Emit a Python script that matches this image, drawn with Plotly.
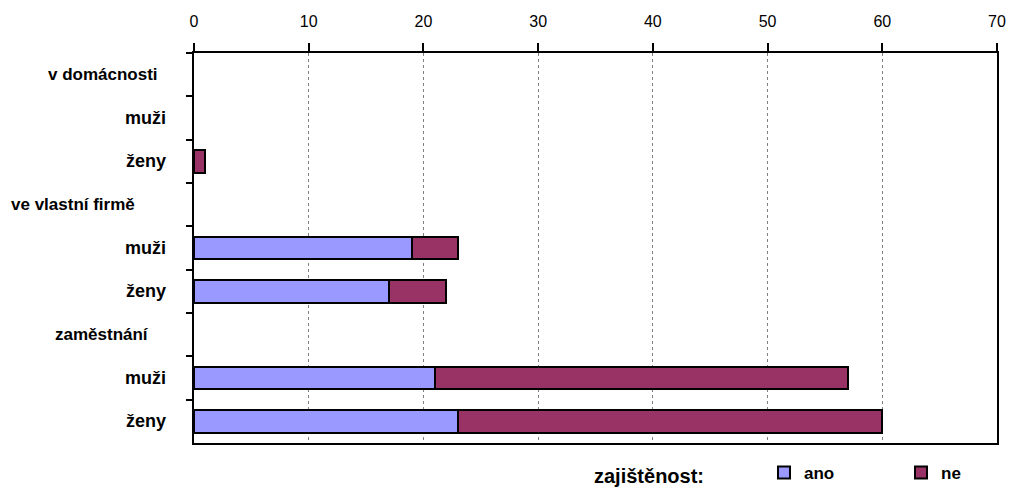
import plotly.graph_objects as go

# ---- data ----
row_keys = ["v domácnosti", "v domácnosti|muži", "v domácnosti|ženy",
            "ve vlastní firmě", "ve vlastní firmě|muži", "ve vlastní firmě|ženy",
            "zaměstnání", "zaměstnání|muži", "zaměstnání|ženy"]
row_labels = ["v domácnosti", "muži", "ženy",
              "ve vlastní firmě", "muži", "ženy",
              "zaměstnání", "muži", "ženy"]
is_group = [True, False, False, True, False, False, True, False, False]
ano = [None, 0, 0, None, 19, 17, None, 21, 23]
ne = [None, 0, 1, None, 4, 5, None, 36, 37]
x_ticks = [0, 10, 20, 30, 40, 50, 60, 70]
legend_title = "zajištěnost:"

FONT = "Arial, 'Liberation Sans', sans-serif"


def drawn(vals):
    # zero-length bars are not drawn (no outline at the axis)
    return [v if v else None for v in vals]


fig = go.Figure()
fig.add_trace(go.Bar(y=row_keys, x=drawn(ano), orientation="h", name="ano",
                     marker=dict(color="#9999FF", line=dict(color="black", width=2))))
fig.add_trace(go.Bar(y=row_keys, x=drawn(ne), orientation="h", name="ne",
                     marker=dict(color="#993366", line=dict(color="black", width=2))))

annotations = []
group_centers = {"v domácnosti": 103, "ve vlastní firmě": 73, "zaměstnání": 102}
for key, lab, g in zip(row_keys, row_labels, is_group):
    if g:
        annotations.append(dict(x=0, xref="paper", y=key, yref="y", text=f"<b>{lab}</b>",
                                showarrow=False, xanchor="center",
                                xshift=group_centers[lab] - 194,
                                font=dict(family=FONT, size=17, color="black")))
    else:
        annotations.append(dict(x=0, xref="paper", y=key, yref="y", text=f"<b>{lab}</b>",
                                showarrow=False, xanchor="right", xshift=-26,
                                font=dict(family=FONT, size=18, color="black")))

annotations.append(dict(x=(592 - 194) / 803, xref="paper", y=(443 - 476) / 390, yref="paper",
                        text=f"<b>{legend_title}</b>", showarrow=False,
                        xanchor="left", yanchor="middle",
                        font=dict(family=FONT, size=20, color="black")))

fig.update_layout(
    width=1010, height=492,
    margin=dict(l=194, r=13, t=53, b=49, autoexpand=False),
    paper_bgcolor="white", plot_bgcolor="white",
    barmode="stack", bargap=0.47,
    font=dict(family=FONT, color="black"),
    showlegend=True,
    legend=dict(orientation="h", xref="container", yref="container",
                x=764 / 1010, xanchor="left", y=19 / 492, yanchor="middle",
                font=dict(family=FONT, size=17, color="black", weight="bold"),
                entrywidth=92, traceorder="normal", bgcolor="rgba(0,0,0,0)"),
    annotations=annotations,
    xaxis=dict(side="top", range=[0, 70], tickvals=x_ticks, ticks="outside", ticklen=8,
               tickwidth=2, tickcolor="black", ticklabelstandoff=10,
               tickfont=dict(family=FONT, size=16, color="black"),
               showgrid=True, gridcolor="#808080", griddash="dot", gridwidth=1,
               showline=True, linecolor="black", linewidth=2, mirror=True, zeroline=False,
               fixedrange=True),
    yaxis=dict(type="category", categoryorder="array", categoryarray=row_keys,
               autorange="reversed", showticklabels=False, tickson="boundaries",
               ticks="outside", ticklen=6, tickwidth=2, tickcolor="black",
               showgrid=False, showline=True, linecolor="black", linewidth=2, mirror=True,
               fixedrange=True),
)

fig.write_html("out.html")
